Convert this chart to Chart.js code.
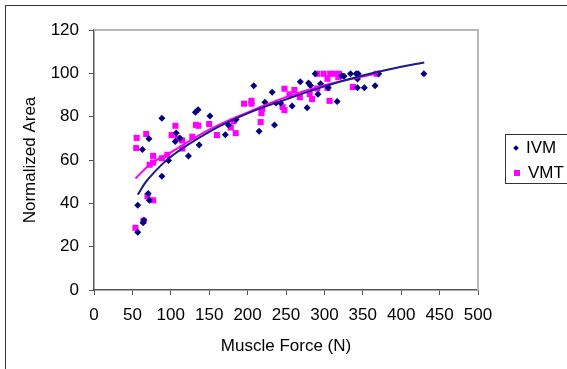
<!DOCTYPE html>
<html>
<head>
<meta charset="utf-8">
<script src="https://cdn.jsdelivr.net/npm/chart.js@4.4.1/dist/chart.umd.min.js"></script>
<style>
  html, body { margin: 0; padding: 0; background: #fff; }
  #wrap { position: relative; width: 567px; height: 369px; overflow: hidden; }
  #frame { position: absolute; left: 5px; top: 5px; width: 600px; height: 400px; border: 1px solid #333; box-sizing: border-box; }
  #legend { position: absolute; left: 505px; top: 134px; width: 80px; height: 50px; border: 1px solid #333; box-sizing: border-box;
            font-family: "Liberation Sans", Arial, sans-serif; font-size: 17px; line-height: 20px; color: #000; }
  #legend div { position: absolute; left: 8px; white-space: nowrap; }
  .mk { display: inline-block; margin-right: 8px; vertical-align: 3px; }
</style>
</head>
<body>
<div id="wrap">
  <canvas id="chart" width="567" height="369"></canvas>
  <div id="frame"></div>
  <div id="legend">
    <div style="top:3px"><span class="mk" style="background:#000080;transform:rotate(45deg);width:4px;height:4px;"></span>IVM</div>
    <div style="top:28px"><span class="mk" style="background:#ff00ff;width:6px;height:6px;vertical-align:2px;"></span>VMT</div>
  </div>
</div>
<script>
// IVM measurements (force N, normalized area)
var ivmForce = [57, 57, 63, 65, 64, 70.6, 72, 71.5, 88.4, 88.4, 97, 105.8, 107, 112, 123, 132, 135.5, 137, 151,
  171, 175, 185, 208, 215, 222.5, 232, 235, 237, 243, 258, 268.6, 277.5, 279.4, 281.8, 288, 291.6, 295, 305,
  316.6, 322.7, 325.5, 334, 341.5, 343, 344, 343, 352, 366, 370.7, 429.5];
var ivmArea = [26.6, 39.1, 64.8, 32.2, 31, 44.5, 41.4, 69.8, 79.3, 52.5, 59.8, 68.5, 72.5, 70, 61.8, 82, 83.2, 66.9, 80.3,
  71.6, 76.2, 78.7, 94.3, 73.3, 86.7, 91.3, 76.2, 86.3, 86.3, 84.9, 96.1, 84.1, 95.5, 94.4, 99.8, 90.4, 95.2, 93.3,
  87, 98.9, 98.7, 99.8, 99.8, 97.4, 99.8, 93.3, 93.3, 94.3, 99.8, 99.8];

// VMT measurements
var vmtForce = [54, 55.5, 55, 64.4, 68, 69.6, 77, 72.4, 77, 77, 88.4, 95.5, 101, 106, 108.7, 114.8, 115, 128, 132.7, 136,
  150, 160, 178, 181.6, 184.5, 195.4, 205, 205, 217, 218, 219, 245.6, 248, 248, 254.6, 261, 268, 280.8, 284,
  290.7, 290.7, 299, 304, 304, 306.7, 307.6, 313, 319, 318, 337, 368];
var vmtArea = [28.7, 70.2, 65.5, 32, 72, 43.3, 41.4, 57.8, 61.9, 58.8, 60.8, 62.4, 71.5, 75.8, 70, 69, 65.3, 70.7, 76.2, 75.8,
  76.6, 71.5, 75, 77.9, 72.4, 86, 87.3, 86, 77.5, 81.6, 83.6, 84.4, 92.9, 83, 90.3, 92.3, 89, 90.4, 88.1,
  99.8, 93, 99.8, 97.5, 93.3, 87.3, 99.8, 99.8, 99.8, 98.3, 93.7, 99.8];

// trend lines
var ivmTrendX = [57, 70, 100, 150, 200, 250, 300, 350, 400, 430];
var ivmTrendY = [44, 51, 61.5, 73, 81.5, 88, 94, 99, 103, 105];
var vmtTrendX = [54, 75, 100, 150, 200, 250, 300, 350, 370];
var vmtTrendY = [51.5, 58.5, 63.5, 74, 82, 89, 94.5, 98.5, 100];

var xTicks = [0, 50, 100, 150, 200, 250, 300, 350, 400, 450, 500];
var yTicks = [0, 20, 40, 60, 80, 100, 120];

function pts(xs, ys) {
  return xs.map(function(x, i) { return {x: x, y: ys[i]}; });
}

var font = "'Liberation Sans', Arial, sans-serif";
Chart.defaults.font.family = font;
Chart.defaults.color = '#000';

// light gray frame on top/right of the plot area
var plotFrame = {
  id: 'plotFrame',
  beforeDatasetsDraw: function(chart) {
    var a = chart.chartArea, c = chart.ctx;
    c.save();
    c.strokeStyle = '#b8b8b8';
    c.lineWidth = 2;
    c.beginPath();
    c.moveTo(a.left, a.top);
    c.lineTo(a.right, a.top);
    c.lineTo(a.right, a.bottom);
    c.stroke();
    c.restore();
  }
};

new Chart(document.getElementById('chart').getContext('2d'), {
  type: 'scatter',
  data: {
    datasets: [
      { label: 'IVM trend', type: 'line', data: pts(ivmTrendX, ivmTrendY), borderColor: '#1a1a80',
        borderWidth: 2, pointRadius: 0, tension: 0.4, fill: false, order: 1 },
      { label: 'VMT trend', type: 'line', data: pts(vmtTrendX, vmtTrendY), borderColor: '#ff00ff',
        borderWidth: 2, pointRadius: 0, tension: 0.4, fill: false, order: 2 },
      { label: 'IVM', data: pts(ivmForce, ivmArea), pointStyle: 'rectRot', pointRadius: 3.5,
        backgroundColor: '#000080', borderColor: '#000080', borderWidth: 0, order: 3 },
      { label: 'VMT', data: pts(vmtForce, vmtArea), pointStyle: 'rect', pointRadius: 4.3,
        backgroundColor: '#ff00ff', borderColor: '#ff00ff', borderWidth: 0, order: 4 }
    ]
  },
  options: {
    responsive: false,
    animation: false,
    layout: { padding: { left: 0, top: 30, right: 89, bottom: 0 } },
    plugins: { legend: { display: false }, tooltip: { enabled: false } },
    scales: {
      x: {
        type: 'linear', min: 0, max: 500,
        afterFit: function(s) { s.height = 79; },
        afterBuildTicks: function(s) { s.ticks = xTicks.map(function(v) { return {value: v}; }); },
        grid: { drawOnChartArea: false, drawTicks: true, tickLength: 5, color: '#555', lineWidth: 1 },
        border: { color: '#555', width: 1.5 },
        ticks: { padding: 10, font: { size: 17 }, maxRotation: 0, autoSkip: false },
        title: { display: true, text: 'Muscle Force (N)', font: { size: 17 }, padding: { bottom: 12 } }
      },
      y: {
        type: 'linear', min: 0, max: 120,
        afterFit: function(s) { s.width = 94; },
        afterBuildTicks: function(s) { s.ticks = yTicks.map(function(v) { return {value: v}; }); },
        grid: { drawOnChartArea: false, drawTicks: true, tickLength: 5, color: '#555', lineWidth: 1 },
        border: { color: '#555', width: 1.5 },
        ticks: { padding: 10, font: { size: 17 }, autoSkip: false },
        title: { display: true, text: 'Normalized Area', font: { size: 17 }, padding: { top: 20 } }
      }
    }
  },
  plugins: [plotFrame]
});
</script>
</body>
</html>
